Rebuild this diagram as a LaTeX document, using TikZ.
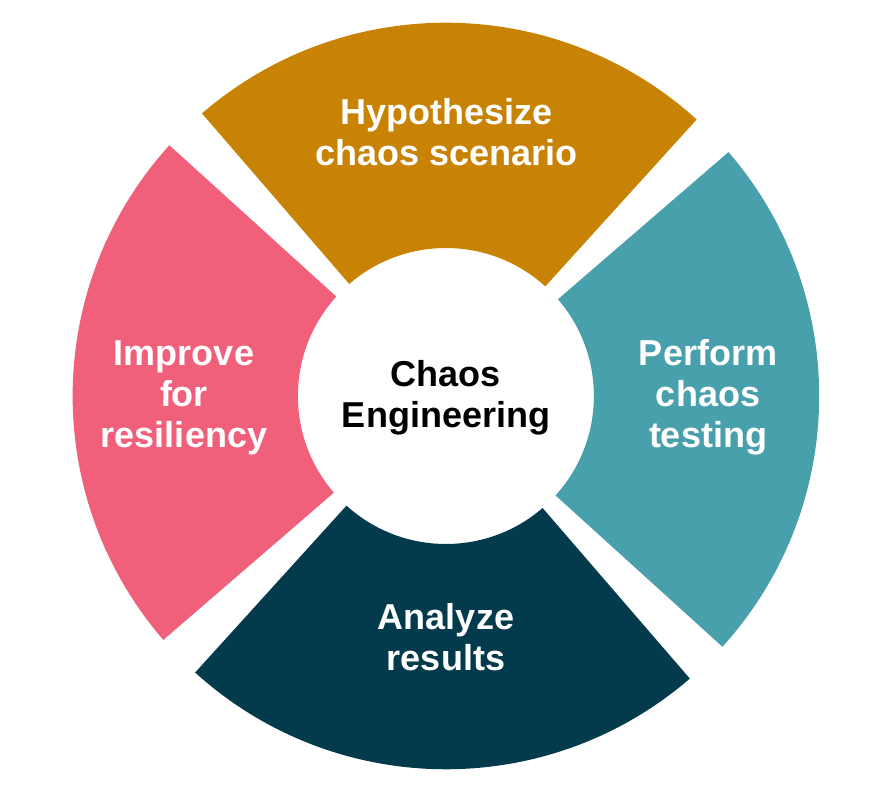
\documentclass[tikz,border=0pt]{standalone}
\usepackage{fontspec}
\setmainfont{Liberation Sans}
\definecolor{segochre}{HTML}{C98304}
\definecolor{segpink}{HTML}{F0607B}
\definecolor{segteal}{HTML}{48A0AC}
\definecolor{segdark}{HTML}{033A4C}
\newcommand\ringseg[3]{% color, start angle, end angle
  \fill[#1] ([shift={(C)}]#2:148pt) arc[start angle=#2, end angle=#3, radius=148pt]
    -- ([shift={(C)}]#3:373.3pt) arc[start angle=#3, end angle=#2, radius=373.3pt] -- cycle;}
\begin{document}
\begin{tikzpicture}[x=1pt,y=1pt,
  lbl/.style={font=\fontsize{36}{41}\selectfont\bfseries, text=white, align=center, inner sep=0pt, anchor=base},
  hub/.style={circle, fill=white, minimum size=292pt, inner sep=0pt}]
\fill[white] (0,0) rectangle (893,800);
\useasboundingbox (0,0) rectangle (893,800);
\coordinate (C) at (445.9,404);
\ringseg{segochre}{47.8}{130.8}
\ringseg{segpink}{137.8}{220.8}
\ringseg{segdark}{227.8}{310.8}
\ringseg{segteal}{317.8}{400.8}
\node[hub] (hub) at (C) {};
% base anchor = baseline of the last line
\node[lbl, text=black] (center) at (446,372) {Chaos\\Engineering};
\node[lbl] (hyp) at (446.5,634) {Hypothesize\\chaos scenario};
\node[lbl] (imp) at (184,352) {Improve\\for\\resiliency};
\node[lbl] (perf) at (708,352) {Perform\\chaos\\testing};
\node[lbl] (ana) at (446,129) {Analyze\\results};
\end{tikzpicture}
\end{document}
